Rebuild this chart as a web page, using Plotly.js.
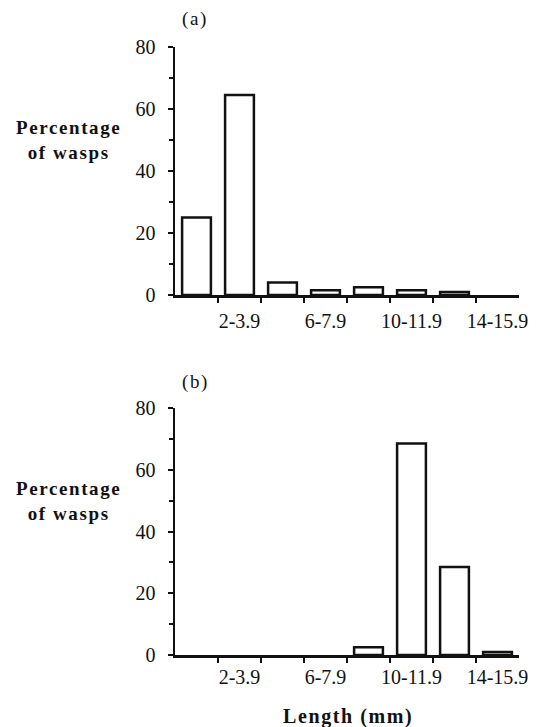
<!DOCTYPE html>
<html>
<head>
<meta charset="utf-8">
<script src="https://cdn.plot.ly/plotly-3.0.1.min.js"></script>
<style>
  html, body { margin: 0; padding: 0; background: #fff; }
  #chart { width: 543px; height: 727px; }
  .annotation-text { letter-spacing: 1.6px; }
</style>
</head>
<body>
<div id="chart"></div>
<script>
// Length classes (mm)
const categories = ['0-1.9', '2-3.9', '4-5.9', '6-7.9', '8-9.9', '10-11.9', '12-13.9', '14-15.9'];
// Percentage of wasps, panel (a)
const valuesA = [25, 64.5, 4, 1.5, 2.5, 1.5, 1, 0];
// Percentage of wasps, panel (b)
const valuesB = [0, 0, 0, 0, 2.5, 68.5, 28.5, 1];
// Labelled categories on the x axis
const labelledCats = ['2-3.9', '6-7.9', '10-11.9', '14-15.9'];
const yTicks = [0, 20, 40, 60, 80];
const yMinor = [10, 30, 50, 70];
const panelLabels = ['(a)', '(b)'];
const yTitle = 'Percentage<br>of wasps';
const xTitle = 'Length (mm)';

const idx = categories.map((c, i) => i);
const labelIdx = labelledCats.map(c => categories.indexOf(c));
const boundaries = categories.slice(0, -1).map((c, i) => i + 0.5);

const serif = 'Liberation Serif, Times New Roman, serif';
const ink = '#111';

function barStyle(values) {
  // empty classes draw no outline (they sit on the axis line)
  return { color: '#ffffff', line: { color: ink, width: values.map(v => (v > 0 ? 2.5 : 0)) } };
}

const traces = [
  { type: 'bar', x: idx, y: valuesA, xaxis: 'x', yaxis: 'y', marker: barStyle(valuesA), hoverinfo: 'none' },
  { type: 'bar', x: idx, y: valuesB, xaxis: 'x2', yaxis: 'y2', marker: barStyle(valuesB), hoverinfo: 'none' }
];

function xAxis(anchor, standoff) {
  return {
    domain: [175 / 543, 519 / 543],
    anchor: anchor,
    range: [-0.5, 7.5],
    tickmode: 'array',
    tickvals: labelIdx,
    ticktext: labelledCats,
    ticks: '',
    ticklabelstandoff: standoff,
    minor: { tickmode: 'array', tickvals: boundaries, ticks: 'outside', ticklen: 5, tickwidth: 2, tickcolor: ink },
    showline: true, linecolor: ink, linewidth: 2.5,
    showgrid: false, zeroline: false, fixedrange: true, automargin: false,
    tickfont: { family: serif, size: 20, color: ink }
  };
}
function yAxis(anchor, domain) {
  return {
    domain: domain,
    anchor: anchor,
    range: [0, 80],
    tickmode: 'array',
    tickvals: yTicks,
    ticks: 'outside', ticklen: 5, tickwidth: 2, tickcolor: ink,
    minor: { tickmode: 'array', tickvals: yMinor, ticks: 'outside', ticklen: 4, tickwidth: 2, tickcolor: ink },
    ticklabelstandoff: 8,
    showline: true, linecolor: ink, linewidth: 2.5,
    showgrid: false, zeroline: false, fixedrange: true, automargin: false,
    tickfont: { family: serif, size: 20, color: ink }
  };
}

function note(text, xref, yref, x, y, bold, size) {
  return {
    text: bold ? '<b>' + text + '</b>' : text,
    xref: xref, yref: yref, x: x, y: y,
    xanchor: 'center', yanchor: 'middle', showarrow: false,
    font: { family: serif, size: size || 19, color: ink }
  };
}

const layout = {
  width: 543, height: 727,
  margin: { l: 0, r: 0, t: 0, b: 0 },
  paper_bgcolor: '#fff', plot_bgcolor: '#fff',
  showlegend: false,
  bargap: 0.33,
  xaxis: xAxis('y', 6),
  yaxis: yAxis('x', [1 - 295 / 727, 1 - 47 / 727]),
  xaxis2: xAxis('y2', 2),
  yaxis2: yAxis('x2', [1 - 655 / 727, 1 - 408 / 727]),
  annotations: [
    note(panelLabels[0], 'paper', 'paper', 195 / 543, 1 - 19 / 727, false),
    note(panelLabels[1], 'paper', 'paper', 195 / 543, 1 - 382 / 727, false),
    note(yTitle, 'paper', 'y', 68 / 543, 50, true),
    note(yTitle, 'paper', 'y2', 68 / 543, 50, true),
    note(xTitle, 'paper', 'paper', 348 / 543, 1 - 716 / 727, true, 20)
  ]
};

Plotly.newPlot('chart', traces, layout, { displayModeBar: false, staticPlot: true });
</script>
</body>
</html>
